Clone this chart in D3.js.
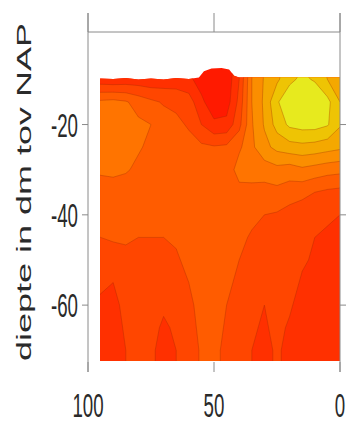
<!DOCTYPE html>
<html>
<head>
<meta charset="utf-8">
<script src="https://cdn.jsdelivr.net/npm/d3@7"></script>
<style>
  body { margin: 0; background: #fff; }
  text { font-family: "Liberation Sans", Arial, sans-serif; fill: #2a2a2a; }
</style>
</head>
<body>
<svg id="chart" width="348" height="426"></svg>
<script>
var xTicks = [100, 50, 0];
var yTicks = [-20, -40, -60];
var yLabel = "diepte in dm tov NAP";

// grid columns (afstand) and rows (diepte)
var gridX = [100, 95, 90, 85, 80, 75, 70, 65, 60, 55, 50, 45, 40, 35, 30, 25, 20, 15, 10, 5, 0];
var gridDepth = [-5, -10, -15, -20, -25, -30, -35, -40, -45, -50, -55, -60, -65, -70, -75];
var gridValues = [
  [1.3, 1.3, 1.3, 1.3, 1.3, 1.3, 1.3, 1.3, 1.1, 0.5, 0.1, 0.2, 1.6, 4.8, 6.0, 6.5, 7.3, 7.7, 7.3, 6.6, 5.9],
  [1.4, 1.4, 1.3, 1.4, 1.4, 1.3, 1.4, 1.4, 1.2, 0.6, 0.2, 0.3, 2.0, 5.0, 6.1, 6.8, 7.8, 8.2, 7.9, 7.0, 6.1],
  [2.8, 4.2, 4.3, 4.1, 3.6, 3.2, 2.9, 2.8, 2.5, 1.2, 0.4, 0.5, 2.3, 5.0, 6.2, 7.9, 8.6, 8.9, 8.8, 8.3, 7.0],
  [4.4, 4.5, 4.5, 4.4, 4.2, 4.0, 3.5, 3.2, 2.9, 2.0, 1.2, 1.3, 2.7, 4.9, 6.1, 7.4, 8.2, 8.4, 8.4, 8.1, 7.1],
  [4.3, 4.4, 4.4, 4.3, 4.1, 3.8, 3.4, 3.2, 3.3, 3.2, 3.1, 3.2, 3.8, 4.8, 5.7, 6.3, 6.6, 6.7, 6.6, 6.4, 6.2],
  [3.9, 4.1, 4.2, 4.1, 3.8, 3.5, 3.3, 3.2, 3.2, 3.1, 3.1, 3.3, 4.5, 4.7, 4.5, 4.7, 4.5, 4.8, 4.6, 4.4, 4.3],
  [3.6, 3.7, 3.6, 3.5, 3.4, 3.3, 3.2, 3.2, 3.2, 3.3, 3.4, 3.5, 3.6, 3.5, 3.6, 3.7, 3.5, 3.3, 3.0, 2.8, 2.7],
  [3.3, 3.3, 3.3, 3.3, 3.2, 3.2, 3.2, 3.2, 3.3, 3.5, 3.6, 3.7, 3.5, 3.2, 3.0, 2.9, 2.6, 2.4, 2.2, 2.1, 2.0],
  [3.0, 3.0, 3.1, 3.1, 3.0, 3.0, 3.0, 3.1, 3.3, 3.5, 3.7, 3.6, 3.2, 2.9, 2.6, 2.7, 2.4, 2.2, 2.0, 1.9, 1.8],
  [2.6, 2.5, 2.6, 2.8, 2.8, 2.8, 2.7, 2.9, 3.2, 3.5, 3.6, 3.4, 3.0, 2.6, 2.4, 2.6, 2.5, 2.1, 1.9, 1.7, 1.6],
  [2.2, 2.1, 2.0, 2.4, 2.6, 2.6, 2.5, 2.6, 3.0, 3.4, 3.5, 3.2, 2.8, 2.4, 2.2, 2.5, 2.3, 1.9, 1.7, 1.5, 1.5],
  [2.0, 1.9, 1.8, 2.2, 2.5, 2.4, 2.1, 2.3, 2.8, 3.3, 3.4, 3.0, 2.6, 2.2, 2.0, 2.3, 2.1, 1.7, 1.5, 1.3, 1.3],
  [1.9, 1.8, 1.7, 2.1, 2.4, 2.2, 1.9, 2.1, 2.7, 3.2, 3.3, 2.9, 2.4, 2.1, 1.9, 2.2, 1.9, 1.5, 1.3, 1.2, 1.2],
  [1.8, 1.7, 1.6, 2.0, 2.3, 2.1, 1.8, 2.0, 2.6, 3.1, 3.2, 2.8, 2.3, 2.0, 1.8, 2.1, 1.8, 1.4, 1.2, 1.1, 1.1],
  [1.8, 1.7, 1.6, 2.0, 2.3, 2.1, 1.8, 2.0, 2.6, 3.1, 3.2, 2.8, 2.3, 2.0, 1.8, 2.1, 1.8, 1.4, 1.2, 1.1, 1.1]
];

// top of the measured profile (maaiveld)
var surfaceX = [95.2, 90, 85, 80, 75, 70, 65, 60, 56, 54, 51, 47, 44, 42, 40, 30, 20, 10, 0];
var surfaceDepth = [-9.8, -9.9, -9.7, -10.0, -9.8, -10.0, -9.7, -9.9, -9.6, -8.2, -7.6, -7.5, -7.8, -9.2, -9.6, -9.6, -9.6, -9.6, -9.6];
var bottomDepth = -72.4;

var levels = [1, 2, 3, 4, 5, 6, 7, 8];
var levelColors = ["#ff1a00", "#ff3000", "#ff4600", "#ff5c00", "#ff7400",
                   "#fb8e00", "#f4a800", "#eec404", "#e7ea1e"];

var svg = d3.select("#chart");

var x = d3.scaleLinear().domain([100, 0]).range([88, 340]);
var y = d3.scaleLinear().domain([0.5, -72.6]).range([32, 362]);

// contour grid coords -> data values (d3.contours puts sample i at i + 0.5)
var nx = gridX.length, ny = gridDepth.length;
var colToX = d3.scaleLinear().domain([0.5, nx - 0.5]).range([gridX[0], gridX[nx - 1]]);
var rowToDepth = d3.scaleLinear().domain([0.5, ny - 0.5]).range([gridDepth[0], gridDepth[ny - 1]]);

var projection = d3.geoTransform({
  point: function (cx, cy) { this.stream.point(x(colToX(cx)), y(rowToDepth(cy))); }
});
var path = d3.geoPath(projection);

var flat = [];
gridValues.forEach(function (row) { row.forEach(function (v) { flat.push(v); }); });

var bands = d3.contours().size([nx, ny]).thresholds(levels)(flat);

// clip to the measured section
var outline = surfaceX.map(function (v, i) { return [x(v), y(surfaceDepth[i])]; });
outline.push([x(0), y(bottomDepth)]);
outline.push([x(surfaceX[0]), y(bottomDepth)]);

svg.append("clipPath").attr("id", "section")
  .append("path")
  .attr("d", d3.line()(outline) + "Z");

var plot = svg.append("g").attr("clip-path", "url(#section)");

plot.append("rect")
  .attr("x", x(100)).attr("y", y(0))
  .attr("width", x(0) - x(100)).attr("height", y(-75) - y(0))
  .attr("fill", levelColors[0]);

plot.selectAll(".band")
  .data(bands)
  .enter().append("path")
  .attr("class", "band")
  .attr("d", path)
  .attr("fill", function (d, i) { return levelColors[i + 1]; });

plot.selectAll(".iso")
  .data(bands)
  .enter().append("path")
  .attr("class", "iso")
  .attr("d", path)
  .attr("fill", "none")
  .attr("stroke", "#9a2800")
  .attr("stroke-opacity", 0.4)
  .attr("stroke-width", 0.8);

// frame and ticks
var axisColor = "#8a8a8a";
var frame = svg.append("g").attr("stroke", axisColor).attr("stroke-width", 1).attr("fill", "none");
frame.append("line").attr("x1", x(100)).attr("x2", x(0)).attr("y1", 32).attr("y2", 32);
frame.append("line").attr("x1", x(100)).attr("x2", x(100)).attr("y1", 13).attr("y2", 372);
frame.append("line").attr("x1", x(0)).attr("x2", x(0)).attr("y1", 13).attr("y2", 372);

frame.selectAll(".xtick-top")
  .data(xTicks).enter().append("line")
  .attr("x1", x).attr("x2", x).attr("y1", 13).attr("y2", 32);
frame.selectAll(".xtick-bottom")
  .data(xTicks).enter().append("line")
  .attr("x1", x).attr("x2", x).attr("y1", 362).attr("y2", 372);
frame.selectAll(".ytick-left")
  .data(yTicks).enter().append("line")
  .attr("x1", 82).attr("x2", 88).attr("y1", y).attr("y2", y);
frame.selectAll(".ytick-right")
  .data(yTicks).enter().append("line")
  .attr("x1", 340).attr("x2", 346).attr("y1", y).attr("y2", y);

// labels (narrow, tall type)
var squeeze = 0.55, fontSize = 34;

svg.selectAll(".xlabel")
  .data(xTicks).enter().append("text")
  .attr("class", "xlabel")
  .attr("transform", function (d) { return "translate(" + x(d) + ",417) scale(" + squeeze + ",1)"; })
  .attr("text-anchor", "middle")
  .attr("font-size", fontSize)
  .text(function (d) { return d; });

svg.selectAll(".ylabel")
  .data(yTicks).enter().append("text")
  .attr("class", "ylabel")
  .attr("transform", function (d) { return "translate(78," + (y(d) + 12) + ") scale(" + squeeze + ",1)"; })
  .attr("text-anchor", "end")
  .attr("font-size", fontSize)
  .text(function (d) { return d; });

svg.append("text")
  .attr("transform", "translate(31,192) scale(" + squeeze + ",1) rotate(-90)")
  .attr("text-anchor", "middle")
  .attr("font-size", 36)
  .text(yLabel);
</script>
</body>
</html>
